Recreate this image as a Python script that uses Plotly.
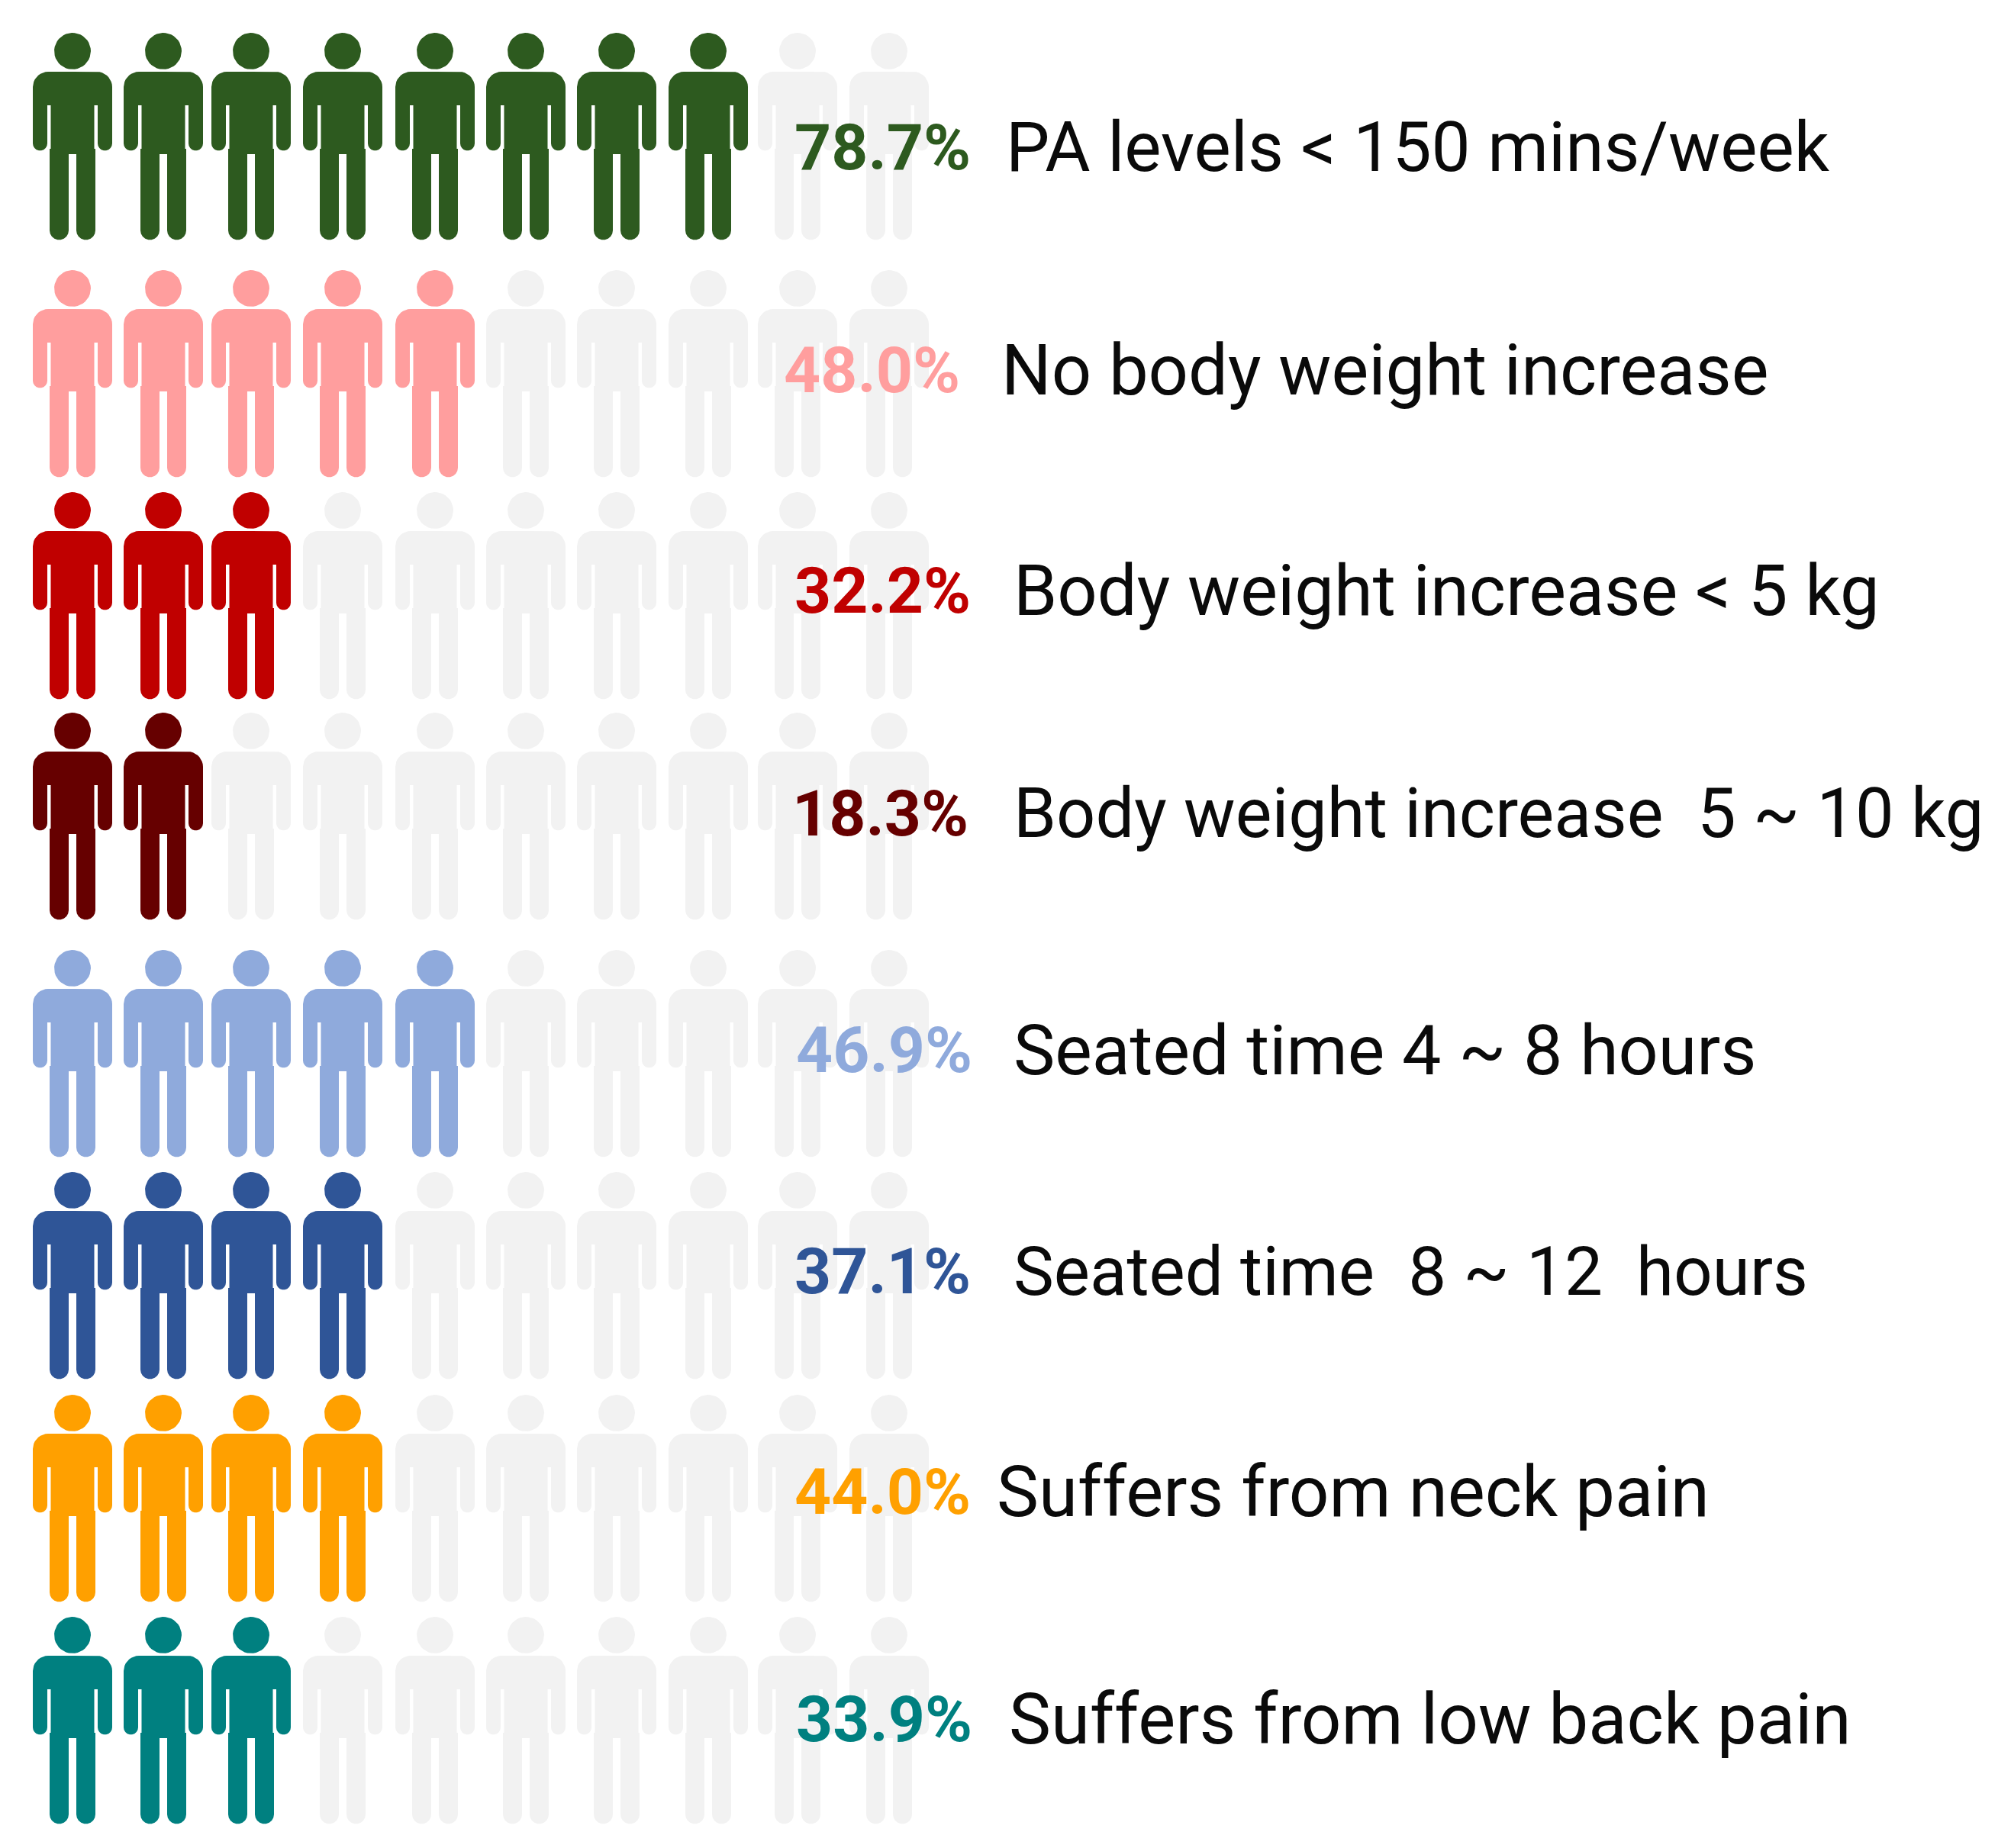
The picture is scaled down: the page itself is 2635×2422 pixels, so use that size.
import numpy as np
import plotly.graph_objects as go

W, H = 2635, 2422
PAGE_INSET = 8  # the browser's default page margin

percent_values = [78.7, 48.0, 32.2, 18.3, 46.9, 37.1, 44.0, 33.9]
percent_labels = ["78.7%", "48.0%", "32.2%", "18.3%", "46.9%", "37.1%", "44.0%", "33.9%"]
row_labels = [
    "PA levels < 150 mins/week",
    "No body weight increase",
    "Body weight increase < 5 kg",
    "Body weight increase\u00a0\u00a05 ~ 10 kg",
    "Seated time 4 ~ 8 hours",
    "Seated time\u00a0\u00a08 ~ 12\u00a0\u00a0hours",
    "Suffers from neck pain",
    "Suffers from low back pain",
]
row_colors = ["#2D5A1F", "#FF9E9E", "#C00000", "#660000", "#8FAADC", "#2F5597", "#FFA000", "#008080"]
icon_empty_color = "#F2F2F2"

column_x = [95, 214, 329, 449, 570, 689, 808, 928, 1045, 1165]
row_head_y = [67, 378, 669, 958, 1269, 1560, 1852, 2143]
pct_x = [1039, 1025, 1039, 1036, 1041, 1039, 1039, 1041]
label_x = [1316, 1310, 1326, 1326, 1326, 1326, 1304, 1320]
text_y = [193, 485, 774, 1066, 1376, 1666, 1955, 2253]
PCT_SIZE = 84
label_sizes = [91, 92, 92, 90, 91.5, 89, 92.5, 92.5]


def arc(cx, cy, r, a0, a1, n=10):
    t = np.radians(np.linspace(a0, a1, n))
    return list(cx + r * np.cos(t)), list(cy + r * np.sin(t))


def person_outline():
    xs, ys = [0, 32], [27, 27]
    ax, ay = arc(32, 47, 20, -90, 0); xs += ax; ys += ay
    ax, ay = arc(42.5, 121, 9.5, 0, 180); xs += ax; ys += ay
    xs += [33, 28.5, 28.5, 30]; ys += [71, 71, 128, 128]
    ax, ay = arc(17.5, 235, 12.5, 0, 180); xs += [30] + ax; ys += [128] + ay
    xs += [5, 0]; ys += [135, 135]
    bx = xs + [-v for v in xs[::-1]]
    by = ys + ys[::-1]
    hx, hy = arc(0, 0, 24, 0, 360, 40)
    return np.array(bx + [None] + hx, dtype=float), np.array(by + [None] + hy, dtype=float)


px, py = person_outline()


def icons(columns, y0):
    xs, ys = [], []
    for c in columns:
        xs += list(px + c) + [None]
        ys += list(py + y0) + [None]
    return xs, ys


fig = go.Figure()
annotations = []
for i, v in enumerate(percent_values):
    n = int(round(v / 10))
    for cols, col in ((column_x[n:], icon_empty_color), (column_x[:n], row_colors[i])):
        xs, ys = icons(cols, row_head_y[i])
        fig.add_trace(go.Scatter(x=xs, y=ys, mode="lines", fill="toself", fillcolor=col,
                                 line=dict(width=0, color=col), hoverinfo="skip",
                                 connectgaps=False, showlegend=False))
    annotations.append(dict(x=pct_x[i], y=text_y[i], text=f"<b>{percent_labels[i]}</b>", xref="x", yref="y",
                            xanchor="left", yanchor="middle", showarrow=False,
                            font=dict(family="Roboto", size=PCT_SIZE, color=row_colors[i])))
    annotations.append(dict(x=label_x[i], y=text_y[i], text=row_labels[i], xref="x", yref="y",
                            xanchor="left", yanchor="middle", showarrow=False,
                            font=dict(family="Roboto", size=label_sizes[i], color="#0A0A0A")))

fig.update_layout(
    width=W, height=H, margin=dict(l=0, r=0, t=0, b=0),
    paper_bgcolor="white", plot_bgcolor="white",
    xaxis=dict(range=[PAGE_INSET, W + PAGE_INSET], visible=False, fixedrange=True),
    yaxis=dict(range=[H + PAGE_INSET, PAGE_INSET], visible=False, fixedrange=True),
    annotations=annotations, showlegend=False,
)
fig.write_html("out.html", config={"displayModeBar": False})
